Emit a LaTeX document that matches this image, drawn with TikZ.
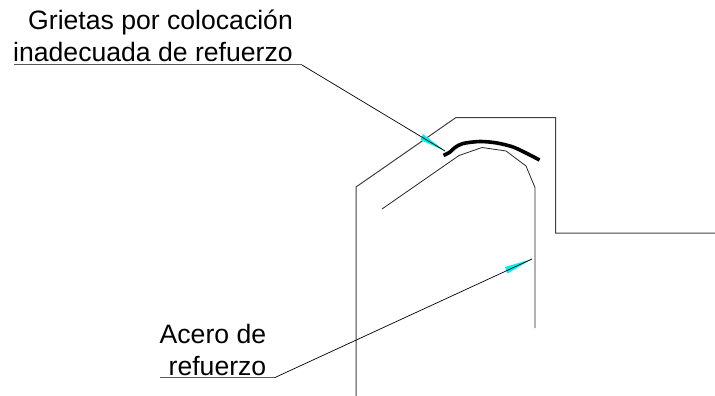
\documentclass[tikz,border=0pt]{standalone}
\usepackage{fontspec}
\setmainfont{Liberation Sans}
\definecolor{tipcyan}{RGB}{0,240,240}
\tikzset{
  wall/.style={draw=black!75,line width=1pt,line join=miter},
  rebar/.style={draw=black!85,line width=.8pt},
  crack/.style={draw=black,line width=3.6pt,line join=round},
  leader/.style={draw=black,line width=.7pt},
  uline/.style={draw=black!65,line width=1pt},
  tip/.style={fill=tipcyan,draw=none},
  lab/.style={anchor=base west,inner sep=0pt,font=\fontsize{26.6}{30}\selectfont}
}
\begin{document}
\begin{tikzpicture}[x=1pt,y=-1pt]
\useasboundingbox (0,0) rectangle (715,396);
\node[lab] (t1) at (28,30) {Grietas por colocación};
\node[lab] (t2) at (13,61.5) {inadecuada de refuerzo};
\node[lab] (t3) at (159.5,343.5) {Acero de};
\node[lab] (t4) at (168.5,375.5) {refuerzo};
% outline of the element
\draw[wall] (356,396) -- (356,187) -- (456,117.5) -- (555.5,117.5) -- (555.5,233) -- (715,233);
% reinforcing bar
\draw[rebar] (382,209) -- (459,155.5) -- (482,147.5) -- (506,151) -- (526,166) -- (535,187.5) -- (535,328);
% crack
\draw[crack] plot[smooth,tension=.5] coordinates {(443.5,155.5) (450,152) (455,147.5) (463,143.5) (480,141.5) (497,143) (513,147) (527,153.5) (539.5,160)};
% leader 1
\coordinate (u1a) at (14,65);
\coordinate (u1b) at (302,65);
\coordinate (a1) at (445,151);
\coordinate (b1a) at (423,134);
\coordinate (b1b) at (420.5,140);
\fill[tip] (a1) -- (b1a) -- (b1b) -- cycle;
\draw[uline] (u1a) -- (u1b);
\draw[leader] (u1b) -- (a1);
% leader 2
\coordinate (u2a) at (160,377.5);
\coordinate (u2b) at (275,377.5);
\coordinate (a2) at (532,259);
\coordinate (b2a) at (505,267);
\coordinate (b2b) at (507.5,273.5);
\fill[tip] (a2) -- (b2a) -- (b2b) -- cycle;
\draw[uline] (u2a) -- (u2b);
\draw[leader] (u2b) -- (a2);
\end{tikzpicture}
\end{document}
